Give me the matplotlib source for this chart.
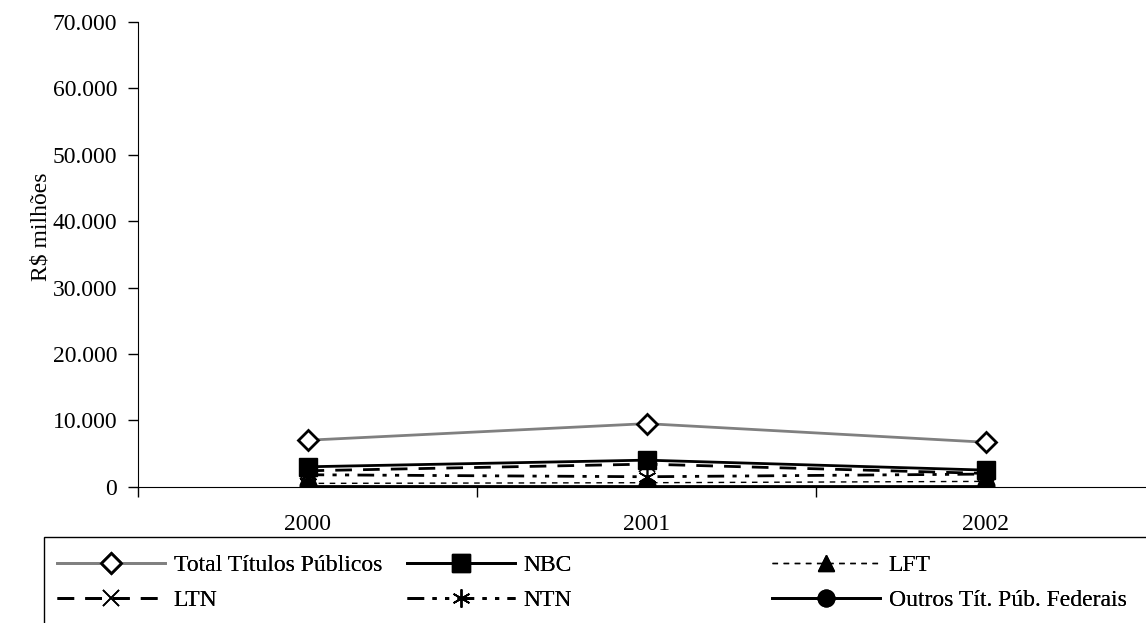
import matplotlib
matplotlib.use("Agg")
import matplotlib.pyplot as plt
from matplotlib.ticker import FuncFormatter, FixedLocator
from matplotlib.patches import Rectangle

plt.rcParams["font.family"] = ["Liberation Serif", "DejaVu Serif"]

years = ["2000", "2001", "2002"]
total = [7000, 9500, 6700]
nbc = [3000, 4000, 2500]
lft = [500, 600, 800]
ltn = [2400, 3400, 2000]
ntn = [1800, 1500, 1900]
outros = [100, 100, 100]

W, H = 1146, 623
FS = 17
fig = plt.figure(figsize=(W / 100, H / 100), dpi=100)
ax = fig.add_axes([138 / W, 1 - 486.7 / H, (1155 - 138) / W, (486.7 - 22) / H])

x = list(range(len(years)))
h_total, = ax.plot(x, total, color="#808080", lw=2, marker="D", ms=10, mfc="white",
                   mec="black", mew=2, label="Total Títulos Públicos")
h_nbc, = ax.plot(x, nbc, color="black", lw=2, marker="s", ms=13, label="NBC")
h_lft, = ax.plot(x, lft, color="black", lw=1, ls=(0, (4, 4)), marker="^", ms=12, label="LFT")
h_ltn, = ax.plot(x, ltn, color="black", lw=2, ls=(0, (6, 4)), marker="x", ms=12, mew=1.2,
                 label="LTN")
h_ntn, = ax.plot(x, ntn, color="black", lw=2, ls=(0, (6, 3, 1.5, 3, 1.5, 3)),
                 marker=(6, 2, 0), ms=13, mew=1.2, label="NTN")
h_out, = ax.plot(x, outros, color="black", lw=2, marker="o", ms=12,
                 label="Outros Tít. Púb. Federais")

ax.set_xlim(-0.5, 2.5)
ax.set_ylim(0, 70000)
ax.set_yticks(range(0, 70001, 10000))
ax.yaxis.set_major_formatter(FuncFormatter(lambda v, p: f"{int(v):,}".replace(",", ".")))
ax.set_xticks(x)
ax.set_xticklabels(years)
ax.xaxis.set_minor_locator(FixedLocator([-0.5, 0.5, 1.5, 2.5]))
ax.tick_params(axis="x", which="major", length=0, pad=20, labelsize=FS)
ax.tick_params(axis="x", which="minor", length=7, direction="out", width=1)
ax.tick_params(axis="y", length=7, direction="out", width=1, pad=8, labelsize=FS)
for s in ["top", "right"]:
    ax.spines[s].set_visible(False)
ax.set_ylabel(r"R\$ milhões", fontsize=FS)
ax.yaxis.set_label_coords(-0.085, 0.56)

# legend box, Excel style: three columns of equal width
fig.patches.append(Rectangle((44 / W, -0.01), 1.0, 1 - 537 / H + 0.01, transform=fig.transFigure,
                             fill=False, edgecolor="black", lw=1))
cols = [([h_total, h_ltn], 52), ([h_nbc, h_ntn], 402), ([h_lft, h_out], 767)]
for handles, left in cols:
    leg = fig.legend(handles=handles, loc="upper left",
                     bbox_to_anchor=(left / W, 1 - 550 / H), fontsize=FS, frameon=False,
                     handlelength=4.6, handletextpad=0.35, borderaxespad=0,
                     labelspacing=0.55, borderpad=0.2)
    fig.add_artist(leg)

fig.savefig("out.png", dpi=100)
